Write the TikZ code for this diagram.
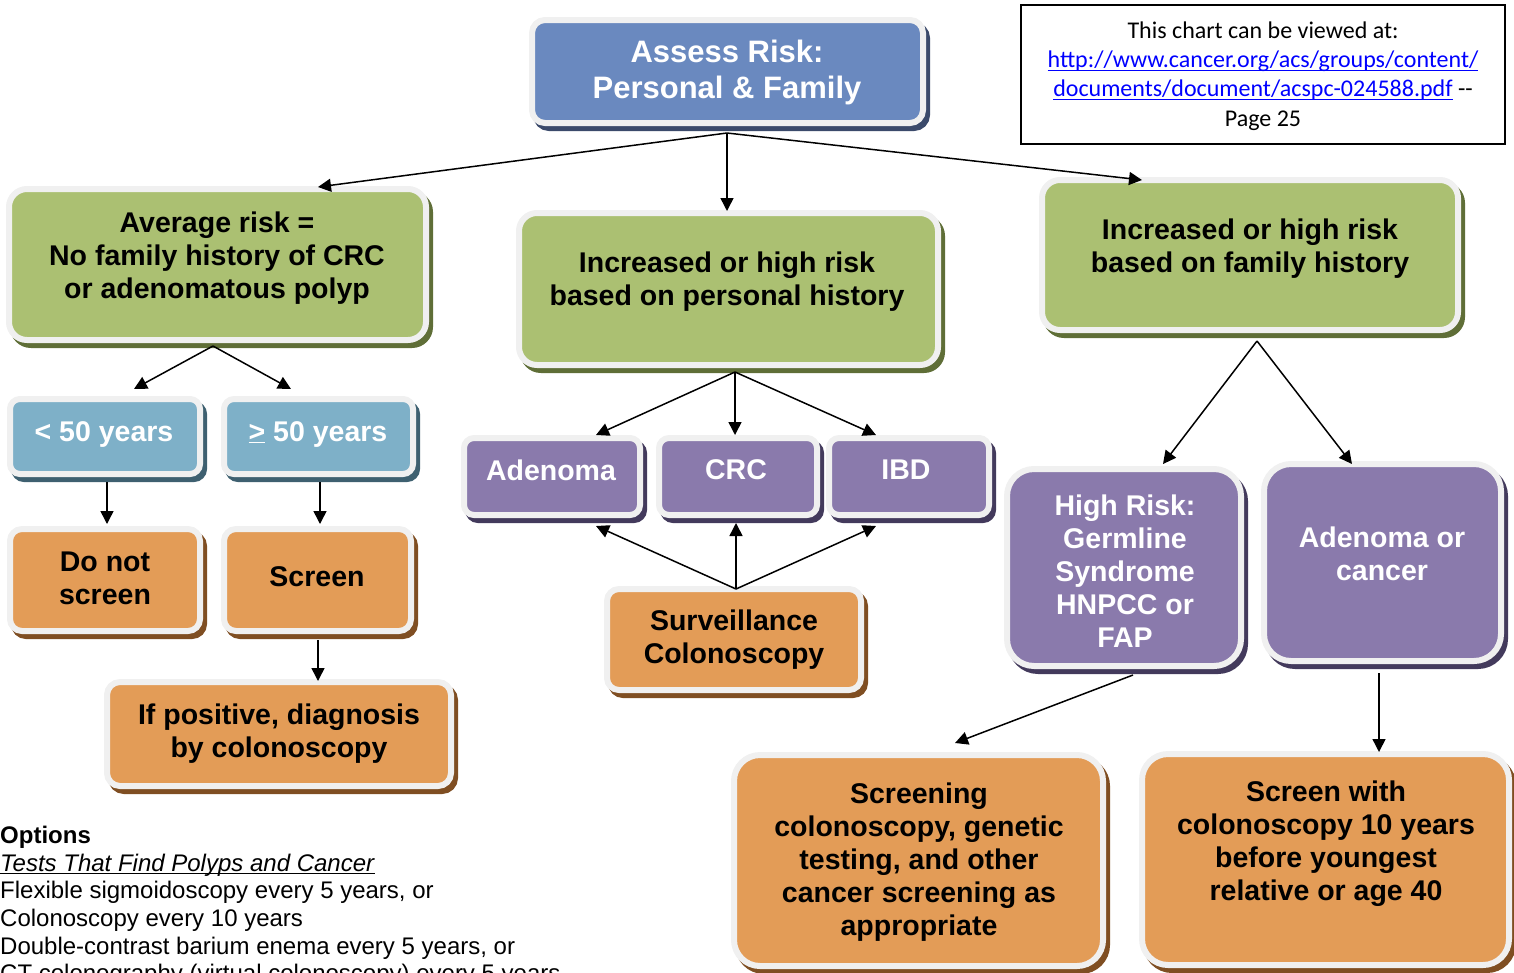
\documentclass[tikz,border=0pt]{standalone}
\usepackage{fontspec}
\setmainfont{Liberation Sans}
\newfontfamily\calfont{Carlito}
\usetikzlibrary{shadows,calc,arrows.meta}
\definecolor{edgew}{RGB}{240,240,240}
\definecolor{cblue}{RGB}{106,137,191}
\definecolor{sblue}{RGB}{59,74,107}
\definecolor{cgreen}{RGB}{171,192,114}
\definecolor{sgreen}{RGB}{95,110,55}
\definecolor{clblue}{RGB}{126,176,200}
\definecolor{slblue}{RGB}{62,96,112}
\definecolor{corange}{RGB}{227,156,87}
\definecolor{sorange}{RGB}{127,78,34}
\definecolor{cpurple}{RGB}{138,122,172}
\definecolor{spurple}{RGB}{67,58,92}
\definecolor{linkblue}{RGB}{0,0,255}
\newcommand\myul[2][3.5pt]{\setbox0\hbox{#2}\rlap{\rule[-#1]{\wd0}{1.2pt}}\box0}
\tikzset{
  box/.style 2 args={draw=edgew, line width=6pt, fill=#1, inner sep=0pt, outer sep=0pt,
     general shadow={fill=#2, draw=#2, line width=6pt, shadow xshift=4pt, shadow yshift=-5pt}},
  bluebox/.style={box={cblue}{sblue}},
  greenbox/.style={box={cgreen}{sgreen}},
  lbluebox/.style={box={clblue}{slblue}},
  orangebox/.style={box={corange}{sorange}},
  purplebox/.style={box={cpurple}{spurple}},
  txt/.style={font=\fontsize{28.5}{33}\selectfont\bfseries, align=center, inner sep=0pt},
  wtxt/.style={txt, text=white},
  arr/.style={line width=1.5pt, -{Triangle[length=13pt,width=13pt]}},
  ln/.style={line width=1.5pt},
}
\begin{document}
\begin{tikzpicture}[x=1pt,y=-1pt]
\useasboundingbox (0,0) rectangle (1514,972);
% boxes
\node[bluebox, minimum width=391pt, minimum height=103pt, rounded corners=13pt] (A) at (727.5,71.5) {};
\node[greenbox, minimum width=417pt, minimum height=151pt, rounded corners=18pt] (avg) at (217.5,264.5) {};
\node[greenbox, minimum width=419pt, minimum height=152pt, rounded corners=18pt] (pers) at (728.5,289) {};
\node[greenbox, minimum width=416pt, minimum height=150pt, rounded corners=18pt] (fam) at (1250,255) {};
\node[lbluebox, minimum width=190pt, minimum height=75pt, rounded corners=10pt] (lt50) at (105,436.5) {};
\node[lbluebox, minimum width=189pt, minimum height=75pt, rounded corners=10pt] (ge50) at (318.5,436.5) {};
\node[orangebox, minimum width=190pt, minimum height=102pt, rounded corners=12pt] (dns) at (105,580) {};
\node[orangebox, minimum width=187pt, minimum height=102pt, rounded corners=12pt] (scr) at (317.5,580) {};
\node[orangebox, minimum width=344pt, minimum height=104pt, rounded corners=13pt] (ifpos) at (279,734) {};
\node[purplebox, minimum width=176pt, minimum height=77pt, rounded corners=10pt] (aden) at (552,476.5) {};
\node[purplebox, minimum width=158pt, minimum height=77pt, rounded corners=10pt] (crc) at (738,476.5) {};
\node[purplebox, minimum width=160pt, minimum height=77pt, rounded corners=10pt] (ibd) at (909,476.5) {};
\node[orangebox, minimum width=254pt, minimum height=101pt, rounded corners=12pt] (surv) at (734,639.5) {};
\node[purplebox, minimum width=234pt, minimum height=197pt, rounded corners=27pt] (hr) at (1124,567.5) {};
\node[purplebox, minimum width=237pt, minimum height=197pt, rounded corners=27pt] (aoc) at (1382.5,562.5) {};
\node[orangebox, minimum width=369pt, minimum height=211pt, rounded corners=26pt] (sc) at (918.5,860.5) {};
\node[orangebox, minimum width=367pt, minimum height=211pt, rounded corners=26pt] (swc) at (1325.5,859.5) {};
% texts
\node[wtxt, font=\fontsize{31}{36}\selectfont\bfseries] (A-t) at (727,72) {Assess Risk:\\Personal \& Family};
\node[txt] (avg-t) at (217,258.5) {Average risk =\\No family history of CRC\\or adenomatous polyp};
\node[txt] (pers-t) at (727,282) {Increased or high risk\\based on personal history};
\node[txt] (fam-t) at (1250,249) {Increased or high risk\\based on family history};
\node[wtxt] (lt50-t) at (104,434) {< 50 years};
\node[wtxt] (ge50-t) at (318,434) {\underline{>} 50 years};
\node[txt] (dns-t) at (105,578) {Do not\\screen};
\node[txt] (scr-t) at (317,577) {Screen};
\node[txt] (ifpos-t) at (279,734) {If positive, diagnosis\\by colonoscopy};
\node[wtxt] (aden-t) at (551,470) {Adenoma};
\node[wtxt] (crc-t) at (736,470) {CRC};
\node[wtxt] (ibd-t) at (906,470) {IBD};
\node[txt] (surv-t) at (734,640) {Surveillance\\Colonoscopy};
\node[wtxt] (hr-t) at (1125,571) {High Risk:\\Germline\\Syndrome\\HNPCC or\\FAP};
\node[wtxt] (aoc-t) at (1382,554) {Adenoma or\\cancer};
\node[txt] (sc-t) at (919,862) {Screening\\colonoscopy, genetic\\testing, and other\\cancer screening as\\appropriate};
\node[txt] (swc-t) at (1326,844) {Screen with\\colonoscopy 10 years\\before youngest\\relative or age 40};
% url box
\node[draw, line width=1.5pt, minimum width=484pt, minimum height=139pt, inner sep=0pt] (url) at (1263,74.5) {};
\node[font=\calfont\fontsize{24}{29.3}\selectfont, align=center, inner sep=0pt] (url-t) at (1263,76) {This chart can be viewed at:\\\textcolor{linkblue}{\myul{http://www.cancer.org/acs/groups/content/}}\\\textcolor{linkblue}{\myul{documents/document/acspc-024588.pdf}} --\\Page 25};
% options text
\node[anchor=north west, inner sep=0pt, align=left, font=\fontsize{24}{27.6}\selectfont] (opts) at (0,826) {\textbf{Options}\\\myul[3pt]{\textit{Tests That Find Polyps and Cancer}}\\Flexible sigmoidoscopy every 5 years, or\\Colonoscopy every 10 years\\Double-contrast barium enema every 5 years, or\\CT colonography (virtual colonoscopy) every 5 years};
% split coordinates
\coordinate (Asplit) at ($(A.south)+(-0.5,10)$);
\coordinate (avgsplit) at ($(avg.south)+(-4.5,6)$);
\coordinate (perssplit) at ($(pers.south)+(6.5,7)$);
\coordinate (survsplit) at ($(surv.north)+(2,0)$);
\coordinate (famsplit) at ($(fam.south)+(7,11)$);
% connectors
\draw[arr] (Asplit) -- ($(avg.north)+(100.5,-2)$);
\draw[arr] (Asplit) -- ($(pers.north)+(-1.5,-2)$);
\draw[arr] (Asplit) -- ($(fam.north)+(-108,0)$);
\draw[arr] (avgsplit) -- ($(lt50.north)+(29,-10)$);
\draw[arr] (avgsplit) -- ($(ge50.north)+(-27.5,-10)$);
\draw[arr] ($(lt50.south)+(2,8)$) -- ($(dns.north)+(2,-5)$);
\draw[arr] ($(ge50.south)+(1.5,8)$) -- ($(scr.north)+(2.5,-5)$);
\draw[arr] ($(scr.south)+(0.5,9)$) -- ($(ifpos.north)+(39,-1)$);
\draw[arr] (perssplit) -- ($(aden.north)+(44,-3)$);
\draw[arr] (perssplit) -- ($(crc.north)+(-3,-3)$);
\draw[arr] (perssplit) -- ($(ibd.north)+(-33,-3)$);
\draw[arr] (survsplit) -- ($(aden.south)+(44,11)$);
\draw[arr] (survsplit) -- ($(crc.south)+(-2,8)$);
\draw[arr] (survsplit) -- ($(ibd.south)+(-33,11)$);
\draw[arr] (famsplit) -- ($(hr.north)+(39,-5)$);
\draw[arr] (famsplit) -- ($(aoc.north)+(-30.5,0)$);
\draw[arr] ($(hr.south)+(9,9)$) -- ($(sc.north)+(36.5,-12)$);
\draw[arr] ($(aoc.south)+(-3.5,12)$) -- ($(swc.north)+(53.5,-2)$);
\end{tikzpicture}
\end{document}
